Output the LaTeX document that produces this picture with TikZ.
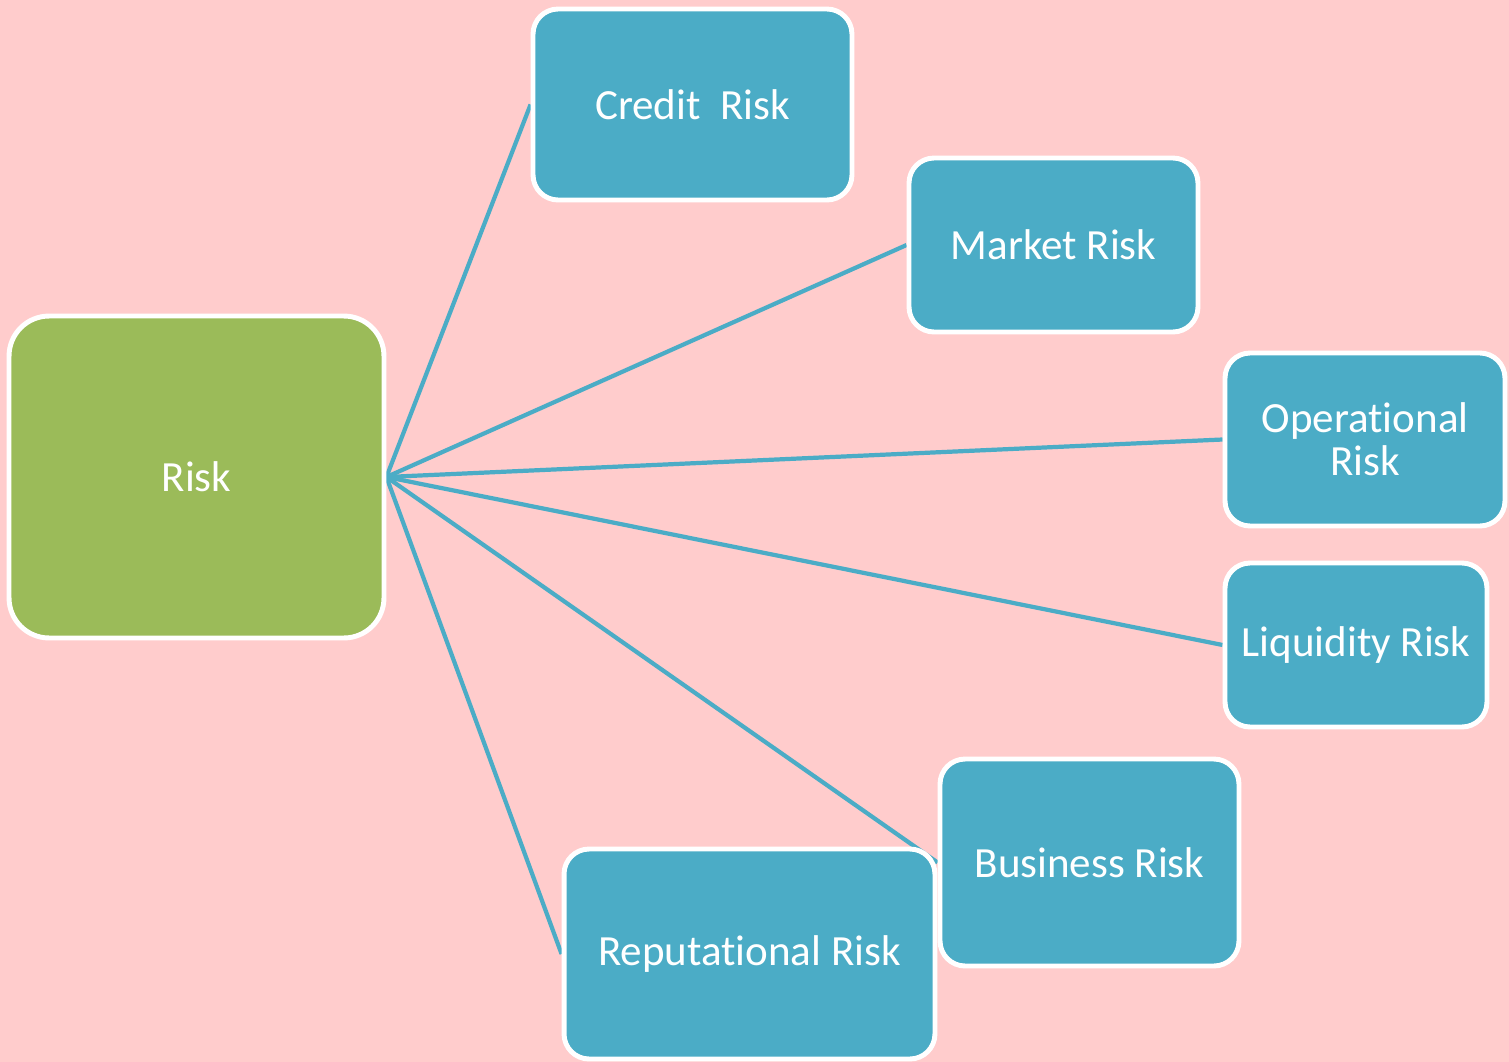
\documentclass[tikz,border=0pt]{standalone}
\usepackage{fontspec}
\setmainfont{Carlito}[RawFeature={-liga;-clig;-dlig;-calt}]
\pgfdeclarelayer{bg}
\pgfdeclarelayer{links}
\pgfsetlayers{bg,links,main}
\definecolor{pagebg}{HTML}{FFCCCC}
\definecolor{teal}{HTML}{4BACC6}
\definecolor{olive}{HTML}{9BBB59}
\tikzset{
  riskbox/.style={draw=white, line width=2.8pt, rounded corners=0.5cm,
    fill=teal, text=white, font=\fontsize{24.5}{26}\selectfont,
    align=center, inner sep=0pt},
  rootbox/.style={riskbox, fill=olive, rounded corners=0.8cm},
  link/.style={draw=teal, line width=2.4pt}
}
\begin{document}
\begin{tikzpicture}[x=0.02cm, y=-0.02cm]
  \begin{pgfonlayer}{bg}
    \fill[pagebg] (0,0) rectangle (1509,1062);
  \end{pgfonlayer}
  \useasboundingbox (0,0) rectangle (1509,1062);

  \node[rootbox, minimum width=7.5cm, minimum height=6.44cm] (risk) at (196.5,477) {Risk};
  \node[riskbox, minimum width=6.38cm, minimum height=3.82cm] (credit) at (692.5,104.5) {Credit\ \ Risk};
  \node[riskbox, minimum width=5.78cm, minimum height=3.48cm] (market) at (1053.5,245) {Market Risk};
  \node[riskbox, minimum width=5.6cm, minimum height=3.46cm] (oper) at (1365,439.5) {Operational\\[-0.05cm]Risk};
  \node[riskbox, minimum width=5.24cm, minimum height=3.28cm] (liq) at (1356,645) {Liquidity Risk};
  \node[riskbox, minimum width=5.98cm, minimum height=4.14cm] (bus) at (1089.5,862.5) {Business Risk};
  \node[riskbox, minimum width=7.42cm, minimum height=4.2cm] (rep) at (749.5,954) {Reputational Risk};

  \begin{pgfonlayer}{links}
    \foreach \t in {credit,market,oper,liq,bus,rep}
      \draw[link] (risk.east) -- (\t.west);
  \end{pgfonlayer}
\end{tikzpicture}
\end{document}
